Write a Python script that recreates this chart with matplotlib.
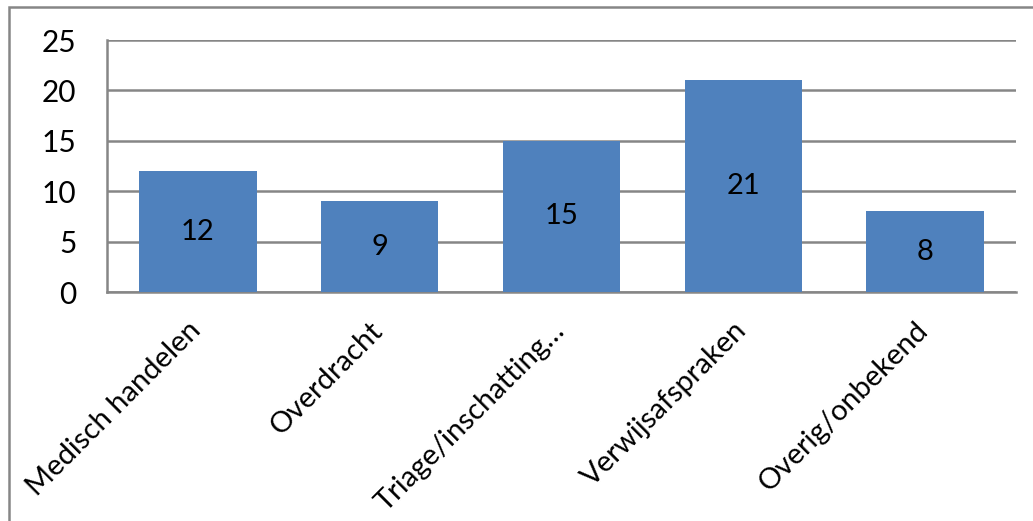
import numpy as np
import matplotlib.pyplot as plt
from matplotlib.patches import Rectangle

categories = ['Medisch handelen', 'Overdracht', 'Triage/inschatting…',
              'Verwijsafspraken', 'Overig/onbekend']
counts = [12, 9, 15, 21, 8]
yticks = [0, 5, 10, 15, 20, 25]

plt.rcParams['font.family'] = ['Lato', 'DejaVu Sans']

W, H = 1033, 521
fig = plt.figure(figsize=(W / 100, H / 100), dpi=100)
ax = fig.add_axes([107 / W, 1 - 292 / H, (1016 - 107) / W, (292 - 40) / H])

x = np.arange(len(categories))
bars = ax.bar(x, counts, width=0.645, color='#4F81BD', zorder=3)

# value labels in the middle of each bar
for xi, v in zip(x, counts):
    ax.text(xi, v / 2, str(v), ha='center', va='center', fontsize=21, color='black', zorder=4)

ax.set_xlim(-0.5, len(categories) - 0.5)
ax.set_ylim(0, 25)
ax.set_yticks(yticks)
ax.set_yticklabels([str(t) for t in yticks], fontsize=21.5)
ax.yaxis.grid(True, color='#868686', linewidth=1.8, zorder=0)
ax.tick_params(axis='y', length=0, pad=22)
ax.tick_params(axis='x', length=0)
ax.set_xticks(x)
ax.set_xticklabels([])

for side in ['top', 'right']:
    ax.spines[side].set_visible(False)
for side in ['left', 'bottom']:
    ax.spines[side].set_color('#868686')
    ax.spines[side].set_linewidth(1.8)

# rotated category labels below the axis
for xi, lab in zip(x, categories):
    ax.annotate(lab, xy=(xi, 0), xycoords=('data', 'axes fraction'),
                xytext=(6, -18), textcoords='offset points',
                rotation=45, ha='right', va='top', fontsize=21)

# outer chart frame
fig.patches.append(Rectangle((9 / W, -0.1), 1.2, 1 - 7 / H + 0.1,
                             transform=fig.transFigure, fill=False,
                             edgecolor='#868686', linewidth=1.8))

fig.savefig('out.png', dpi=100)
